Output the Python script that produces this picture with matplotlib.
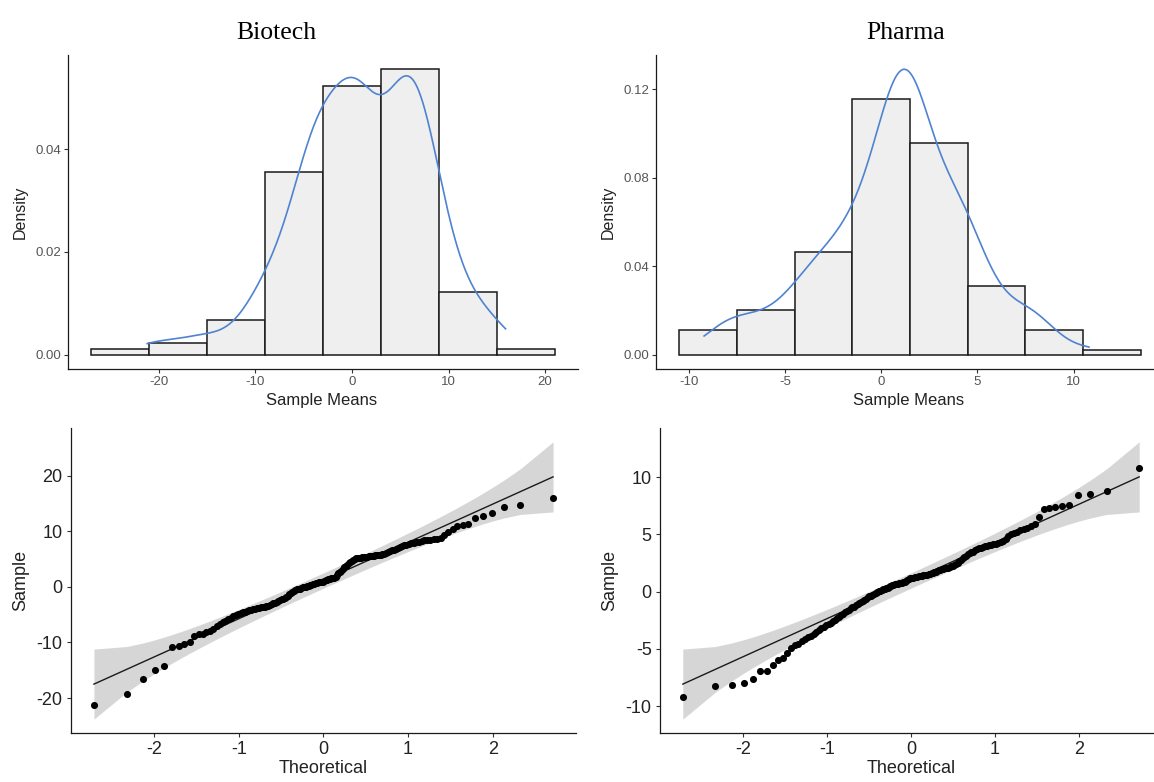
import numpy as np
import matplotlib.pyplot as plt
from matplotlib.ticker import FormatStrFormatter
from statistics import NormalDist

plt.rcParams['font.family'] = ['Liberation Sans', 'DejaVu Sans']
plt.rcParams['axes.unicode_minus'] = False

# sorted sample means, 150 per sector
biotech = [
    -21.2, -19.2, -16.6, -14.9, -14.2, -10.8, -10.7, -10.3, -10.0,
    -8.8, -8.5, -8.4, -8.2, -7.9, -7.5, -7.0, -6.6, -6.3, -6.1,
    -5.8, -5.55, -5.3, -5.1, -4.9, -4.75, -4.6, -4.45, -4.3, -4.2,
    -4.1, -4.0, -3.9, -3.8, -3.75, -3.7, -3.65, -3.58, -3.52, -3.4, -3.25,
    -3.1,
    -2.95, -2.85, -2.7, -2.55, -2.4, -2.25, -2.1, -1.95, -1.8, -1.6, -1.35,
    -1.1, -0.9, -0.7, -0.55, -0.45, -0.4, -0.3, -0.2, -0.1, 0.0, 0.05, 0.15,
    0.2, 0.3, 0.4, 0.5, 0.55, 0.6, 0.7, 0.8, 0.85, 0.9, 0.95, 1.05, 1.15,
    1.3, 1.4, 1.45, 1.5, 1.55, 1.65, 1.8, 2.1, 2.4, 2.7, 2.9,
    3.2, 3.5, 3.8, 4.0, 4.3, 4.5, 4.7, 4.9,
    5.0, 5.1, 5.15, 5.2, 5.25, 5.3, 5.35, 5.4, 5.45, 5.5, 5.55, 5.6, 5.63,
    5.66, 5.7, 5.73, 5.78, 5.85, 5.95, 6.1, 6.25, 6.4, 6.55, 6.7, 6.85, 7.0,
    7.15, 7.3, 7.45, 7.6, 7.7, 7.8, 7.9, 8.0, 8.1, 8.25, 8.4, 8.5, 8.5,
    8.55, 8.6, 8.7,
    9.3, 9.9, 10.4, 10.9, 11.2, 11.3, 12.3, 12.8, 13.2, 14.4, 14.7,
    15.9,
]
pharma = [
    -9.2, -8.2, -8.15, -8.0, -7.6,
    -6.95, -6.9, -6.4, -5.95, -5.8, -5.35, -4.9, -4.7, -4.55,
    -4.35, -4.15, -4.0, -3.85, -3.7, -3.55, -3.35, -3.2, -3.05, -2.9, -2.8,
    -2.7, -2.55, -2.45, -2.3, -2.2, -2.05, -1.95, -1.8, -1.7, -1.6,
    -1.45, -1.38, -1.3, -1.2, -1.1, -1.0, -0.9, -0.8, -0.7, -0.6, -0.5,
    -0.42, -0.35, -0.28, -0.2, -0.12, -0.05, 0.02, 0.08, 0.15, 0.2, 0.25,
    0.3, 0.35, 0.42, 0.48, 0.55, 0.6, 0.65, 0.68, 0.7, 0.72, 0.75, 0.78,
    0.82, 0.88, 0.95, 1.02, 1.1, 1.15, 1.2, 1.23, 1.26, 1.29, 1.32, 1.35,
    1.38, 1.4, 1.42, 1.44, 1.46, 1.48,
    1.52, 1.56, 1.6, 1.65, 1.7, 1.75, 1.8, 1.85, 1.9, 1.95, 2.0, 2.05, 2.08,
    2.1, 2.15, 2.2, 2.25, 2.3, 2.4, 2.5, 2.65, 2.8, 2.95, 3.05, 3.15, 3.25,
    3.35, 3.45, 3.5, 3.6, 3.7, 3.8, 3.85, 3.9, 3.95, 4.0, 4.05, 4.1, 4.15,
    4.2, 4.25, 4.3, 4.4,
    4.6, 4.85, 5.0, 5.1, 5.25, 5.35, 5.5, 5.6, 5.75, 5.9, 6.5, 7.2, 7.3, 7.4,
    7.52, 7.6, 8.4, 8.5, 8.75,
    10.8,
]

biotech_bins = [-27, -21, -15, -9, -3, 3, 9, 15, 21]
pharma_bins = [-10.5, -7.5, -4.5, -1.5, 1.5, 4.5, 7.5, 10.5, 13.5]

biotech_xticks = [-20, -10, 0, 10, 20]
biotech_yticks = [0, 0.02, 0.04]
pharma_xticks = [-10, -5, 0, 5, 10]
pharma_yticks = [0, 0.04, 0.08, 0.12]
qq_xticks = [-2, -1, 0, 1, 2]
biotech_qq_yticks = [-20, -10, 0, 10, 20]
pharma_qq_yticks = [-10, -5, 0, 5, 10]

W, H = 1154, 782
fig = plt.figure(figsize=(W / 100, H / 100), dpi=100)
nd = NormalDist()


def place(x0, y0, x1, y1):
    # pixel box, y measured from the top
    return fig.add_axes([x0 / W, 1 - y1 / H, (x1 - x0) / W, (y1 - y0) / H])


def expand(lo, hi, f=0.05):
    pad = (hi - lo) * f
    return lo - pad, hi + pad


def kde(x):
    # gaussian kernel, bw.nrd0 rule, evaluated over the data range
    x = np.asarray(x, dtype=float)
    n = len(x)
    q1, q3 = np.percentile(x, [25, 75])
    bw = 0.9 * min(x.std(ddof=1), (q3 - q1) / 1.34) * n ** -0.2
    grid = np.linspace(x.min(), x.max(), 512)
    u = (grid[:, None] - x[None, :]) / bw
    d = np.exp(-0.5 * u ** 2).sum(axis=1) / (n * bw * np.sqrt(2 * np.pi))
    return grid, d


def style(ax, size, color, pad):
    for s in ('top', 'right'):
        ax.spines[s].set_visible(False)
    for s in ('left', 'bottom'):
        ax.spines[s].set_linewidth(0.9)
        ax.spines[s].set_color('#1a1a1a')
    ax.tick_params(direction='out', length=3, width=0.8, color='#333333',
                   labelsize=size, labelcolor=color, pad=pad)
    ax.set_facecolor('none')


def hist_panel(ax, data, bins, xticks, yticks):
    counts, _, _ = ax.hist(data, bins=bins, density=True, facecolor='#EFEFEF',
                           edgecolor='#1a1a1a', linewidth=1.1)
    gx, gy = kde(data)
    ax.plot(gx, gy, color='#4F83D1', lw=1.2)
    ax.set_xlim(*expand(bins[0], bins[-1]))
    ax.set_ylim(*expand(0, max(counts.max(), gy.max())))
    ax.set_xticks(xticks)
    ax.set_yticks(yticks)
    ax.yaxis.set_major_formatter(FormatStrFormatter('%.2f'))
    style(ax, 9.5, '#555555', 2)
    ax.set_xlabel('Sample Means', fontsize=12, color='#222222')
    ax.set_ylabel('Density', fontsize=11.5, color='#222222')


def qq_panel(ax, data, yticks):
    y = np.sort(np.asarray(data, dtype=float))
    n = len(y)
    p = (np.arange(1, n + 1) - 0.5) / n
    z = np.array([nd.inv_cdf(v) for v in p])
    # reference line through the quartiles, pointwise 95% band around it
    q1, q3 = np.percentile(y, [25, 75])
    z1, z3 = nd.inv_cdf(0.25), nd.inv_cdf(0.75)
    slope = (q3 - q1) / (z3 - z1)
    intercept = q1 - slope * z1
    fit = intercept + slope * z
    se = slope / np.array([nd.pdf(v) for v in z]) * np.sqrt(p * (1 - p) / n)
    zz = nd.inv_cdf(0.975)
    lower, upper = fit - zz * se, fit + zz * se
    ax.fill_between(z, lower, upper, color='#D6D6D6', lw=0)
    ax.plot(z, fit, color='#1a1a1a', lw=1.0)
    ax.scatter(z, y, s=26, color='black', lw=0, zorder=3)
    ax.set_xlim(*expand(z[0], z[-1]))
    ax.set_ylim(*expand(min(lower.min(), y.min()), max(upper.max(), y.max())))
    ax.set_xticks(qq_xticks)
    ax.set_yticks(yticks)
    style(ax, 13, '#222222', 3)
    ax.set_xlabel('Theoretical', fontsize=13, color='#222222')
    ax.set_ylabel('Sample', fontsize=13, color='#222222')


ax1 = place(68, 55, 578, 369)
hist_panel(ax1, biotech, biotech_bins, biotech_xticks, biotech_yticks)
ax1.xaxis.set_label_coords(0.498, -0.075)
ax1.yaxis.set_label_coords(-0.078, 0.5)

ax2 = place(656, 55, 1164, 369)
hist_panel(ax2, pharma, pharma_bins, pharma_xticks, pharma_yticks)
ax2.xaxis.set_label_coords(0.498, -0.075)
ax2.yaxis.set_label_coords(-0.079, 0.5)

ax3 = place(71, 428, 576, 733)
qq_panel(ax3, biotech, biotech_qq_yticks)
ax3.xaxis.set_label_coords(0.5, -0.09)
ax3.yaxis.set_label_coords(-0.083, 0.5)

ax4 = place(660, 428, 1162, 733)
qq_panel(ax4, pharma, pharma_qq_yticks)
ax4.xaxis.set_label_coords(0.5, -0.09)
ax4.yaxis.set_label_coords(-0.084, 0.5)

fig.text(276 / W, 1 - 33 / H, 'Biotech', family='Liberation Serif',
         fontsize=18.5, ha='center', va='center')
fig.text(906 / W, 1 - 33 / H, 'Pharma', family='Liberation Serif',
         fontsize=18.5, ha='center', va='center')

fig.savefig('out.png', dpi=100)
